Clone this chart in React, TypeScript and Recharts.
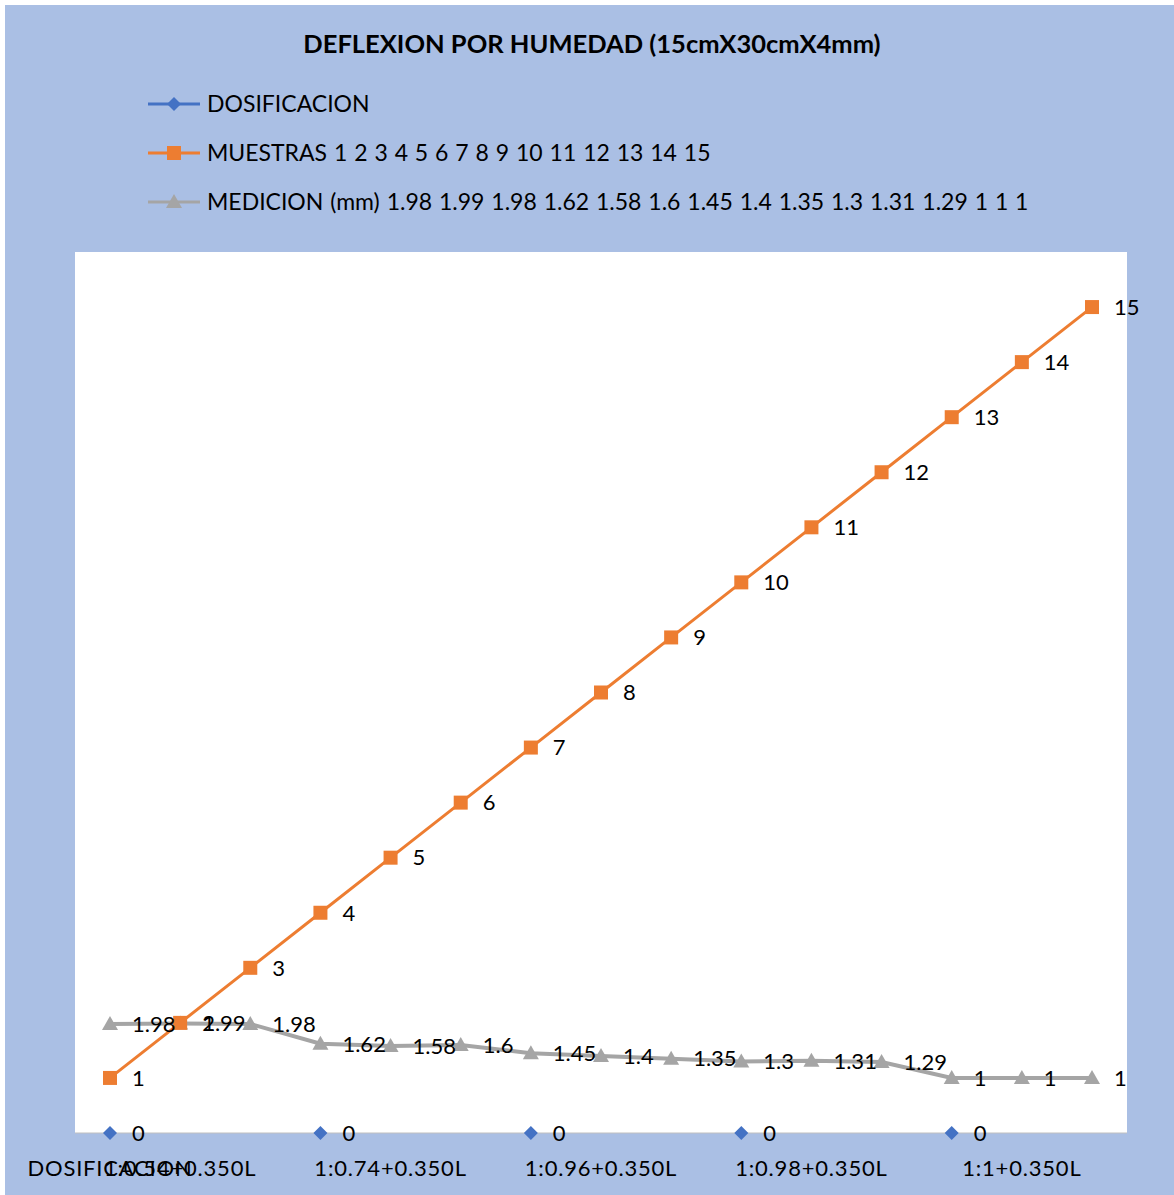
import React from "react";
import { LineChart, Line, XAxis, YAxis, CartesianGrid, LabelList } from "recharts";

const categoryLabels = [
  "DOSIFICACION",
  "1:0.54+0.350L",
  "",
  "",
  "1:0.74+0.350L",
  "",
  "",
  "1:0.96+0.350L",
  "",
  "",
  "1:0.98+0.350L",
  "",
  "",
  "1:1+0.350L",
  "",
];

const dosificacion = [0, null, null, 0, null, null, 0, null, null, 0, null, null, 0, null, null];
const muestras = [1, 2, 3, 4, 5, 6, 7, 8, 9, 10, 11, 12, 13, 14, 15];
const medicion = [1.98, 1.99, 1.98, 1.62, 1.58, 1.6, 1.45, 1.4, 1.35, 1.3, 1.31, 1.29, 1, 1, 1];

const seriesNames = [
  "DOSIFICACION",
  "MUESTRAS 1 2 3 4 5 6 7 8 9 10 11 12 13 14 15",
  "MEDICION (mm) 1.98 1.99 1.98 1.62 1.58 1.6 1.45 1.4 1.35 1.3 1.31 1.29 1 1 1",
];

const BLUE = "#4472C4";
const ORANGE = "#ED7D31";
const GRAY = "#A5A5A5";
const BG = "#AABFE4";
const FONT = "Lato, 'Open Sans', sans-serif";

const data = categoryLabels.map((_, i) => ({
  idx: i,
  dosificacion: dosificacion[i],
  muestras: muestras[i],
  medicion: medicion[i],
}));

const Diamond = ({ cx, cy, size = 7 }: any) =>
  cx == null || cy == null ? null : (
    <path d={`M${cx},${cy - size}L${cx + size},${cy}L${cx},${cy + size}L${cx - size},${cy}Z`} fill={BLUE} />
  );

const Square = ({ cx, cy, size = 7 }: any) =>
  cx == null || cy == null ? null : (
    <rect x={cx - size} y={cy - size} width={size * 2} height={size * 2} fill={ORANGE} />
  );

const Triangle = ({ cx, cy, size = 8 }: any) =>
  cx == null || cy == null ? null : (
    <path d={`M${cx},${cy - size}L${cx + size},${cy + size - 2}L${cx - size},${cy + size - 2}Z`} fill={GRAY} />
  );

const CategoryTick = ({ x, y, payload }: any) => {
  const label = categoryLabels[payload.value];
  if (!label) return null;
  return (
    <text
      x={x}
      y={y + 35}
      textAnchor="middle"
      fontSize={22}
      letterSpacing={0.8}
      fill="#000"
      fontFamily={FONT}
    >
      {label}
    </text>
  );
};

const legendItems = [
  { name: seriesNames[0], color: BLUE, marker: <Diamond cx={26} cy={10} size={7} /> },
  { name: seriesNames[1], color: ORANGE, marker: <Square cx={26} cy={10} size={7} /> },
  { name: seriesNames[2], color: GRAY, marker: <Triangle cx={26} cy={10} size={8} /> },
];

const labelStyle = { fontSize: 22, fill: "#000", fontFamily: FONT };

export default function App() {
  return (
    <div
      style={{
        position: "absolute",
        left: 5,
        top: 5,
        width: 1169,
        height: 1190,
        background: BG,
        fontFamily: FONT,
      }}
    >
      <div
        style={{
          position: "absolute",
          top: 23,
          left: 0,
          width: 1174,
          textAlign: "center",
          fontWeight: 700,
          fontSize: 25.5,
          color: "#000",
        }}
      >
        DEFLEXION POR HUMEDAD (15cmX30cmX4mm)
      </div>

      <div style={{ position: "absolute", left: 143, top: 74 }}>
        {legendItems.map((item) => (
          <div key={item.name} style={{ display: "flex", alignItems: "center", height: 49 }}>
            <svg width={52} height={20} style={{ marginRight: 7 }}>
              <line x1={0} y1={10} x2={52} y2={10} stroke={item.color} strokeWidth={3} />
              {item.marker}
            </svg>
            <span style={{ fontSize: 23, color: "#000", lineHeight: "23px", wordSpacing: 1 }}>
              {item.name}
            </span>
          </div>
        ))}
      </div>

      <LineChart
        width={1169}
        height={1190}
        data={data}
        margin={{ top: 247, left: 70, right: 47, bottom: 22 }}
      >
        <CartesianGrid horizontal={false} vertical={false} fill="#FFFFFF" stroke="none" />
        <XAxis
          dataKey="idx"
          type="category"
          interval={0}
          height={40}
          tick={<CategoryTick />}
          tickLine={false}
          axisLine={{ stroke: "#BFBFBF", strokeWidth: 1 }}
          padding={{ left: 35, right: 35 }}
        />
        <YAxis hide domain={[0, 16]} type="number" />
        <Line
          dataKey="medicion"
          stroke={GRAY}
          strokeWidth={4}
          dot={<Triangle />}
          activeDot={false}
          isAnimationActive={false}
        >
          <LabelList dataKey="medicion" position="right" offset={22} {...labelStyle} />
        </Line>
        <Line
          dataKey="muestras"
          stroke={ORANGE}
          strokeWidth={3}
          dot={<Square />}
          activeDot={false}
          isAnimationActive={false}
        >
          <LabelList dataKey="muestras" position="right" offset={22} {...labelStyle} />
        </Line>
        <Line
          dataKey="dosificacion"
          stroke={BLUE}
          strokeWidth={3}
          dot={<Diamond />}
          activeDot={false}
          isAnimationActive={false}
        >
          <LabelList dataKey="dosificacion" position="right" offset={22} {...labelStyle} />
        </Line>
      </LineChart>
    </div>
  );
}
